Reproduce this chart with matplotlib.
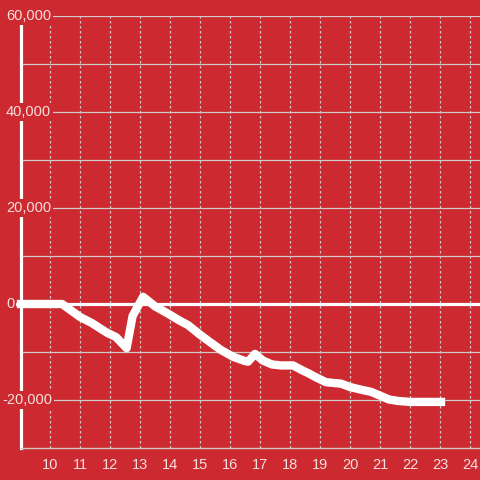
import matplotlib
matplotlib.use("Agg")
import matplotlib.pyplot as plt
import matplotlib.transforms as mtransforms

# data
hours = [9.03, 10.4, 11.0, 11.4, 11.9, 12.2, 12.55, 12.75, 13.1, 13.5, 13.9, 14.3, 14.6,
         15.0, 15.3, 15.7, 16.1, 16.5, 16.6, 16.83, 17.1, 17.4, 17.7, 18.1, 18.4, 18.6,
         18.9, 19.2, 19.7, 20.0, 20.4, 20.7, 21.0, 21.3, 21.6, 22.0, 22.5, 23.03]
values = [0, 0, -2700, -4000, -6000, -6900, -9200, -2500, 1500, -500, -1900, -3400, -4400,
          -6400, -7800, -9600, -11000, -11900, -12000, -10400, -11800, -12600, -12800, -12800,
          -13800, -14400, -15400, -16300, -16600, -17300, -17900, -18300, -19100, -19900,
          -20200, -20400, -20400, -20400]
x_ticks = list(range(10, 25))
y_label_values = [60000, 40000, 20000, 0, -20000]
y_grid_values = list(range(-30000, 60001, 10000))

BG = "#CC2A30"
TXT = "#F6DEDE"
GRID = "#D2C8C8"

fig = plt.figure(figsize=(4.8, 4.8), dpi=100)
fig.patch.set_facecolor(BG)
ax = fig.add_axes([21 / 480, 32 / 480, 459 / 480, 432 / 480])
ax.set_facecolor(BG)
ax.set_xlim(9.03, 24.33)
ax.set_ylim(-30000, 60000)

for s in ["top", "right"]:
    ax.spines[s].set_visible(False)
ax.spines["left"].set_color("white")
ax.spines["left"].set_linewidth(2.3)
ax.spines["left"].set_zorder(2)
ax.spines["bottom"].set_color(GRID)
ax.spines["bottom"].set_linewidth(1.0)

# grid
for yv in y_grid_values:
    if yv == 0:
        ax.axhline(yv, color="white", lw=2.3, zorder=1.5, clip_on=False,
                   xmin=-4 / 459)
    elif yv != -30000:
        ax.axhline(yv, color=GRID, lw=0.9, zorder=1)
for xv in x_ticks:
    ax.axvline(xv, color=GRID, lw=0.9, ls=(0, (2, 2)), zorder=1)

ax.set_xticks(x_ticks)
ax.set_xticklabels([str(v) for v in x_ticks])
ax.set_yticks([])
ax.tick_params(axis="x", length=0, pad=7.5, labelsize=10.5, labelcolor=TXT)
for lab in ax.get_xticklabels():
    lab.set_family("Liberation Sans")

trans = mtransforms.blended_transform_factory(fig.transFigure, ax.transData)
for yv in y_label_values:
    xpix = 6 if yv >= 0 else 2
    ax.text(xpix / 480, yv, f"{yv:,}", transform=trans, ha="left", va="center",
            fontsize=10.5, color=TXT, family="Liberation Sans", zorder=5,
            bbox=dict(boxstyle="square,pad=0.15", fc=BG, ec="none"))

ax.plot(hours, values, color="white", lw=6, solid_capstyle="projecting",
        solid_joinstyle="round", zorder=4, clip_on=False)

fig.savefig("out.png", dpi=100, facecolor=BG)
